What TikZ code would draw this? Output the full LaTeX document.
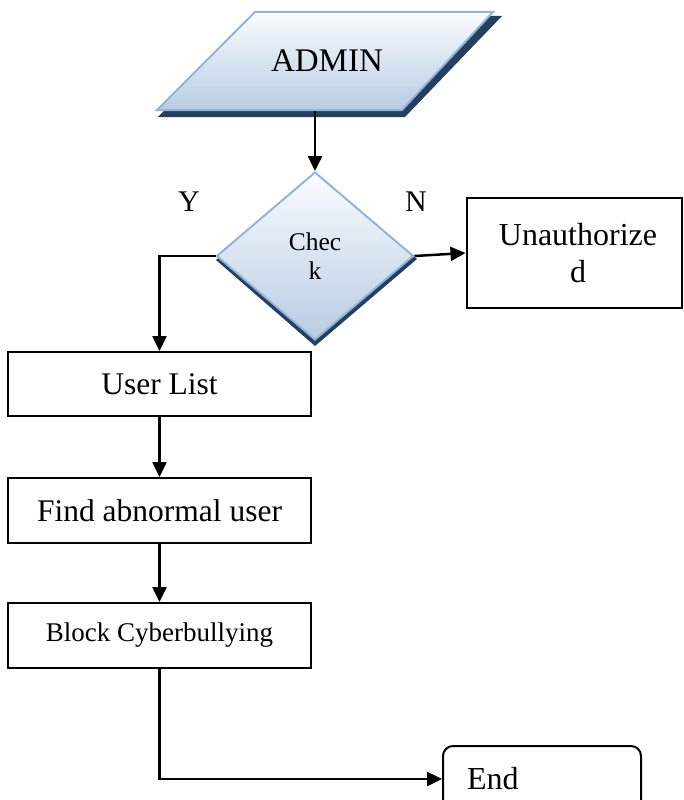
\documentclass[tikz,border=0pt]{standalone}
\usepackage{fontspec}
\setmainfont{Liberation Serif}
\usetikzlibrary{arrows.meta,shapes.geometric,shadows}
\definecolor{edgeblue}{HTML}{95B3D7}
\definecolor{topfill}{HTML}{FAFCFE}
\definecolor{botfill}{HTML}{B8CCE4}
\definecolor{navy}{HTML}{243F60}
\tikzset{
  arr/.style={line width=2.5pt,-{Triangle[length=15pt,width=14pt]}},
  procbox/.style={draw=black,line width=2pt,rectangle,minimum width=303pt,minimum height=64pt,inner sep=0pt,font=\fontsize{31.5}{37}\selectfont},
  lbl/.style={font=\fontsize{30}{35}\selectfont,inner sep=0pt}
}
\begin{document}
\begin{tikzpicture}[x=1pt,y=-1pt]
\useasboundingbox (0,0) rectangle (683,800);
\clip (0,0) rectangle (683,800);
% ADMIN parallelogram
\fill[navy] (255,16) -- (502,16) -- (405,117) -- (158,117) -- cycle;
\shade[top color=topfill,bottom color=botfill] (255,12) -- (493,12) -- (402,110) -- (157,110) -- cycle;
\draw[edgeblue,line width=2pt,line join=miter] (255,12) -- (493,12) -- (402,110) -- (157,110) -- cycle;
\node[inner sep=0pt,font=\fontsize{33}{39}\selectfont] (admin) at (327,61) {ADMIN};
\coordinate (adminout) at (315,111);
% Check diamond
\fill[navy] (316,176) -- (417,259) -- (315,346) -- (216,260) -- cycle;
\node[diamond,aspect=1.17,minimum width=197pt,minimum height=168pt,inner sep=0pt,
      top color=topfill,bottom color=botfill,draw=edgeblue,line width=2pt,
      align=center,font=\fontsize{25.5}{29}\selectfont] (chk) at (315,256) {Chec\\k};
% labels
\node[lbl] (ylab) at (189,202) {Y};
\node[lbl] (nlab) at (416,202) {N};
% Unauthorized
\node[draw=black,line width=2pt,minimum width=215pt,minimum height=110pt,inner sep=0pt,
      align=center,font=\fontsize{32}{37}\selectfont] (unauth) at (574,253) {\hspace*{8pt}Unauthorize\\\hspace*{8pt}d};
% process boxes
\node[procbox] (user) at (159.5,384) {User List};
\node[procbox,minimum height=65pt] (find) at (159.5,510.5) {Find abnormal user};
\node[procbox,minimum height=65pt,font=\fontsize{27}{32}\selectfont] (block) at (159.5,635.5) {Block Cyberbullying};
% End
\node[draw=black,line width=2pt,rounded corners=10pt,minimum width=198pt,minimum height=66pt,
      inner xsep=24pt,text width=150pt,align=left,font=\fontsize{32}{37}\selectfont] (end) at (542,779) {End};
% connectors
\draw[arr] (adminout) -- (chk.north);
\draw[arr] (chk.west) -| (user.north);
\draw[arr] (chk.east) -- (unauth.west);
\draw[arr] (user.south) -- (find.north);
\draw[arr] (find.south) -- (block.north);
\draw[arr] (block.south) |- (end.west);
\end{tikzpicture}
\end{document}
